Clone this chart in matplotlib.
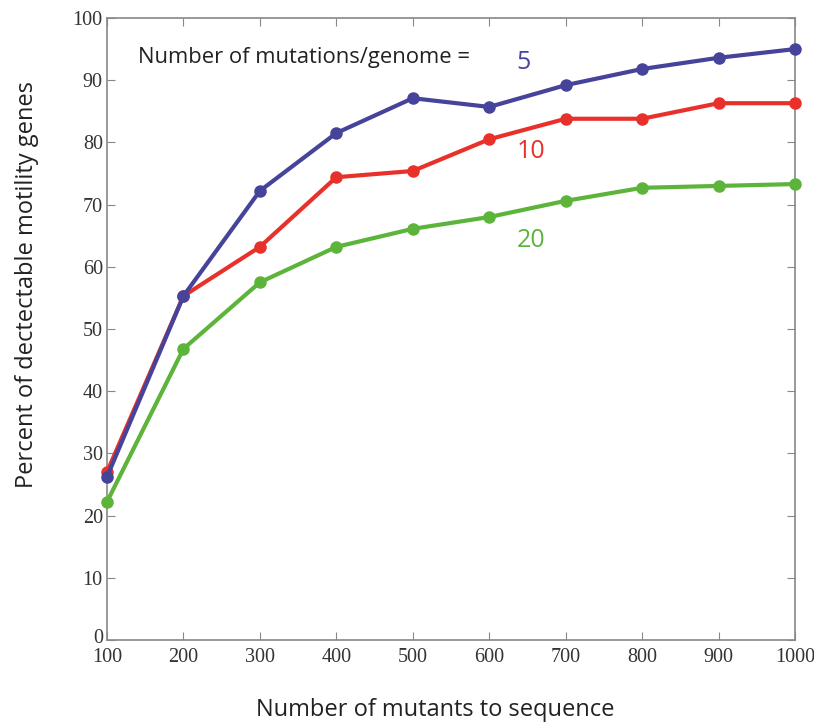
import numpy as np
import matplotlib.pyplot as plt
import matplotlib.transforms as mtransforms

# mutants sequenced vs. percent of motility genes detected
mutants = [100, 200, 300, 400, 500, 600, 700, 800, 900, 1000]
pct_5 = [26.2, 55.3, 72.2, 81.5, 87.1, 85.7, 89.2, 91.8, 93.6, 95.0]
pct_10 = [27.0, 55.3, 63.2, 74.4, 75.4, 80.5, 83.8, 83.8, 86.3, 86.3]
pct_20 = [22.2, 46.8, 57.5, 63.2, 66.1, 68.0, 70.6, 72.7, 73.0, 73.3]

blue = '#46449a'
red = '#e8312b'
green = '#5db43b'

fig = plt.figure(figsize=(8.14, 7.28), dpi=100)
ax = fig.add_axes([0.1314, 0.1209, 0.8453, 0.8544])

for ys, c in [(pct_20, green), (pct_10, red), (pct_5, blue)]:
    ax.plot(mutants, ys, color=c, linewidth=3, marker='o', markersize=8,
            clip_on=False, zorder=3)

ax.set_xlim(100, 1000)
ax.set_ylim(0, 100)
ax.set_xticks(np.arange(100, 1001, 100))
ax.set_yticks(np.arange(0, 101, 10))

for s in ax.spines.values():
    s.set_color('#888888')
    s.set_linewidth(1.2)
ax.tick_params(direction='in', top=True, right=True, length=6,
               color='#888888', labelcolor='#333333', labelsize=14.5)
ax.tick_params(axis='x', pad=6)
ax.tick_params(axis='y', pad=3)
for lab in ax.get_xticklabels() + ax.get_yticklabels():
    lab.set_family('Liberation Serif')

# lift the "0" a little so it clears the "100" below it
zero = ax.get_yticklabels()[0]
zero.set_transform(zero.get_transform() +
                   mtransforms.ScaledTranslation(0, 3 / 72, fig.dpi_scale_trans))

ax.set_xlabel('Number of mutants to sequence', family='Open Sans',
              fontsize=17, color='#222222')
ax.set_ylabel('Percent of dectectable motility genes', family='Open Sans',
              fontsize=17, color='#222222')
ax.xaxis.set_label_coords(0.477, -0.093)
ax.yaxis.set_label_coords(-0.099, 0.571)

ax.text(140, 93.7, 'Number of mutations/genome =', family='Open Sans',
        fontsize=15.8, color='#222222', va='center')
ax.text(636, 92.8, '5', family='Open Sans', fontsize=18, color=blue, va='center')
ax.text(636, 78.5, '10', family='Open Sans', fontsize=18, color=red, va='center')
ax.text(636, 64.3, '20', family='Open Sans', fontsize=18, color=green, va='center')

plt.savefig('out.png', dpi=100)
